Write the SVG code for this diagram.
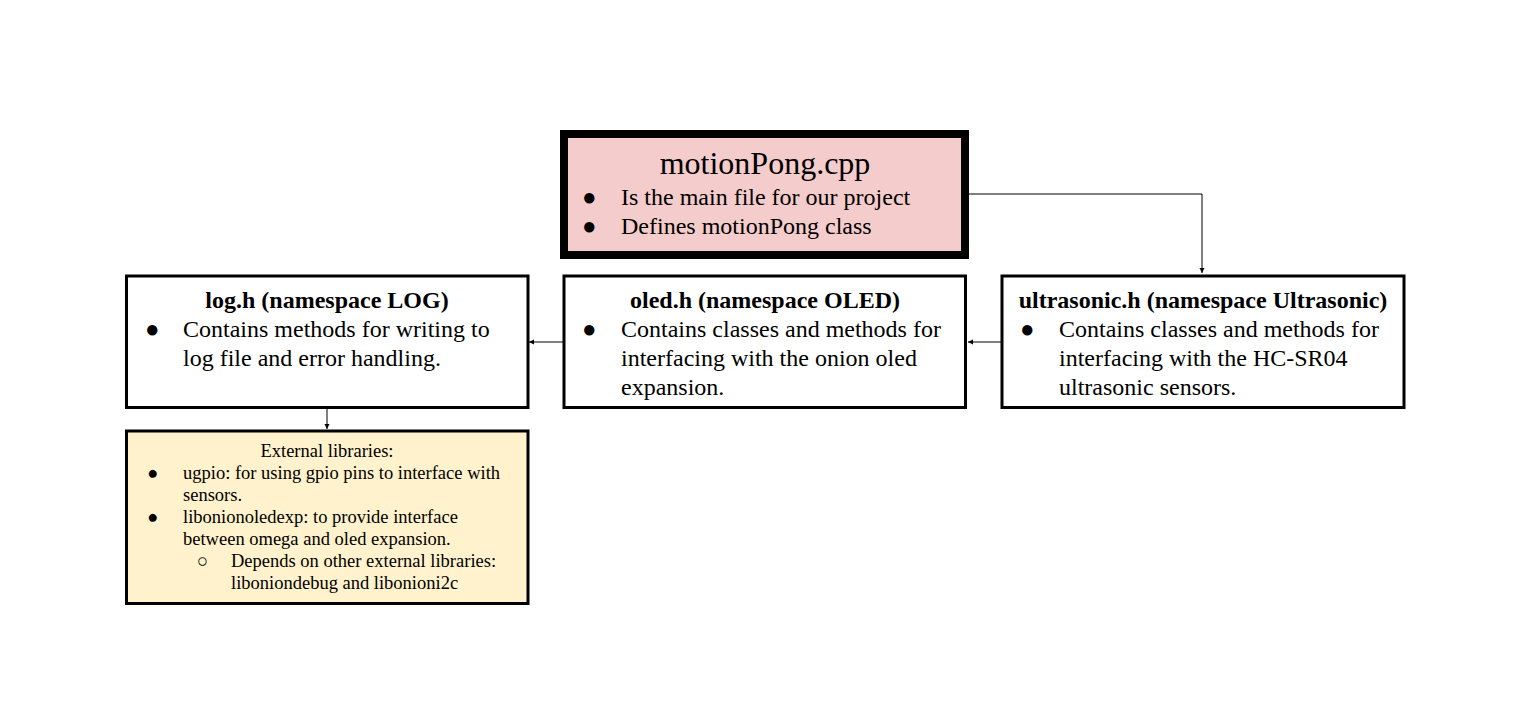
<svg xmlns="http://www.w3.org/2000/svg" width="1517" height="726" viewBox="0 0 1517 726">
<defs>
<style>
.t{font-family:"Liberation Serif","Times New Roman",serif;fill:#000}
.b{font-size:24px}
.h{font-size:24px;font-weight:bold}
.s{font-size:18.5px}
.box{stroke:#000;stroke-width:3;fill:#fff}
.c{stroke:#000;stroke-width:1;fill:none}
</style>
<marker id="ar" markerWidth="6" markerHeight="6" refX="5" refY="3" orient="auto" markerUnits="userSpaceOnUse">
<path d="M0,0.5 L5,3 L0,5.5 Z" fill="#000"/>
</marker>
</defs>
<rect width="1517" height="726" fill="#fff"/>
<g id="connectors">
<path class="c" d="M969,194 H1202 V273" marker-end="url(#ar)"/>
<path class="c" d="M563,342 H529" marker-end="url(#ar)"/>
<path class="c" d="M1001,342 H968" marker-end="url(#ar)"/>
<path class="c" d="M327,408 V429" marker-end="url(#ar)"/>
</g>
<g id="main">
<rect x="564" y="134" width="401" height="121" fill="#f4cccc" stroke="#000" stroke-width="8"/>
<text class="t" x="765" y="174" font-size="32" text-anchor="middle">motionPong.cpp</text>
<text class="t b" x="582" y="205">●</text>
<text class="t b" x="621" y="205">Is the main file for our project</text>
<text class="t b" x="582" y="234">●</text>
<text class="t b" x="621" y="234">Defines motionPong class</text>
</g>
<g id="log">
<rect class="box" x="126.5" y="276" width="401.5" height="131.5"/>
<text class="t h" x="327" y="308" text-anchor="middle">log.h (namespace LOG)</text>
<text class="t b" x="145" y="337">●</text>
<text class="t b" x="183" y="337">Contains methods for writing to</text>
<text class="t b" x="183" y="366">log file and error handling.</text>
</g>
<g id="oled">
<rect class="box" x="564" y="276" width="401.5" height="131.5"/>
<text class="t h" x="765" y="308" text-anchor="middle">oled.h (namespace OLED)</text>
<text class="t b" x="582" y="337">●</text>
<text class="t b" x="621" y="337">Contains classes and methods for</text>
<text class="t b" x="621" y="366">interfacing with the onion oled</text>
<text class="t b" x="621" y="395">expansion.</text>
</g>
<g id="ultrasonic">
<rect class="box" x="1002" y="276" width="402" height="131.5"/>
<text class="t h" x="1203" y="308" text-anchor="middle">ultrasonic.h (namespace Ultrasonic)</text>
<text class="t b" x="1020" y="337">●</text>
<text class="t b" x="1059" y="337">Contains classes and methods for</text>
<text class="t b" x="1059" y="366">interfacing with the HC-SR04</text>
<text class="t b" x="1059" y="395">ultrasonic sensors.</text>
</g>
<g id="external">
<rect x="126.5" y="431" width="401.5" height="172.5" fill="#fff2cc" stroke="#000" stroke-width="3"/>
<text class="t s" x="327" y="457" text-anchor="middle">External libraries:</text>
<text class="t s" x="147" y="479">●</text>
<text class="t s" x="183" y="479">ugpio: for using gpio pins to interface with</text>
<text class="t s" x="183" y="501">sensors.</text>
<text class="t s" x="147" y="523">●</text>
<text class="t s" x="183" y="523">libonionoledexp: to provide interface</text>
<text class="t s" x="183" y="545">between omega and oled expansion.</text>
<text class="t s" x="197" y="567">○</text>
<text class="t s" x="231" y="567">Depends on other external libraries:</text>
<text class="t s" x="231" y="589">liboniondebug and libonioni2c</text>
</g>
</svg>
